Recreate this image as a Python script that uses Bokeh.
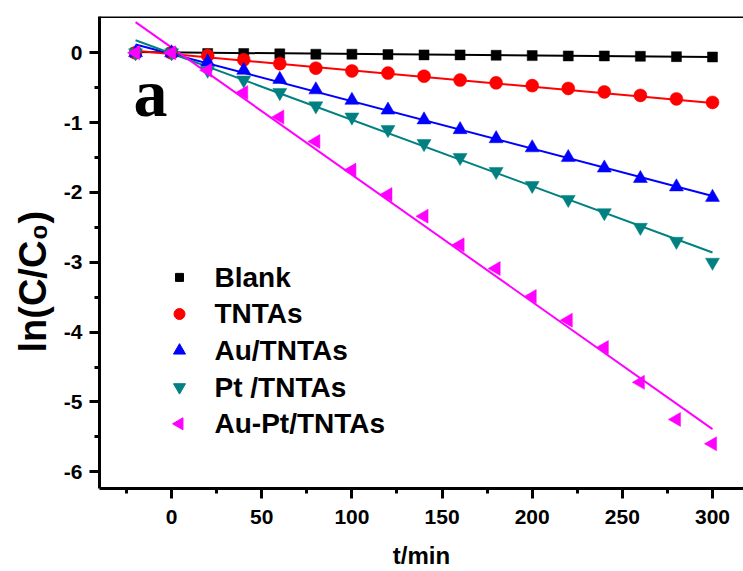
import numpy as np
from bokeh.plotting import figure
from bokeh.models import Range1d, Span, Label, FixedTicker, ColumnDataSource, Title
from bokeh.core.properties import value
from bokeh.embed import file_html
from bokeh.resources import INLINE

# ---- data ----
t_min = [-20, 0, 20, 40, 60, 80, 100, 120, 140, 160, 180, 200, 220, 240, 260, 280, 300]
blank = [0, 0, -0.01, -0.01, -0.015, -0.02, -0.02, -0.025, -0.03, -0.03, -0.035, -0.04, -0.045, -0.045, -0.05, -0.055, -0.06]
tntas = [0, 0, -0.04, -0.10, -0.155, -0.22, -0.26, -0.29, -0.335, -0.39, -0.43, -0.47, -0.51, -0.56, -0.61, -0.66, -0.71]
au_tntas = [0, 0, -0.13, -0.25, -0.38, -0.53, -0.68, -0.82, -0.96, -1.10, -1.23, -1.36, -1.50, -1.65, -1.80, -1.92, -2.07]
pt_tntas = [0, 0, -0.25, -0.39, -0.57, -0.76, -0.92, -1.10, -1.30, -1.50, -1.70, -1.90, -2.10, -2.29, -2.50, -2.70, -3.00]
aupt_tntas = [0, 0, -0.25, -0.57, -0.92, -1.27, -1.68, -2.03, -2.34, -2.75, -3.09, -3.49, -3.83, -4.22, -4.72, -5.25, -5.60]

series_names = ["Blank", "TNTAs", "Au/TNTAs", "Pt /TNTAs", "Au-Pt/TNTAs"]
series_values = [blank, tntas, au_tntas, pt_tntas, aupt_tntas]

# linear-fit lines: value at t=-20 and at t=300
fit_t = [-20, 300]
fit_start = [0.01, 0.03, 0.12, 0.18, 0.44]
fit_end = [-0.06, -0.72, -2.05, -2.86, -5.39]

x_ticks = [0, 50, 100, 150, 200, 250, 300]
x_minor = [-25, 25, 75, 125, 175, 225, 275]
y_ticks = [-6, -5, -4, -3, -2, -1, 0]
y_minor = [-5.5, -4.5, -3.5, -2.5, -1.5, -0.5]

# ---- styles ----
colors = ["#000000", "#FF0000", "#0000FF", "#008080", "#FF00FF"]
markers = ["square", "circle", "triangle", "inverted_triangle", "triangle"]
sizes = [10, 13, 14, 14, 14]
angles = [0, 0, 0, 0, np.pi / 2]

X0, X1 = -40.0, 317.2
Y0, Y1 = -6.24, 0.52
W, H = 743, 571
ML, MR, MT, MB = 99, 0, 16, 81
FW, FH = W - ML - MR, H - MT - MB

def px_to_x(px):
    return X0 + (px - ML) * (X1 - X0) / FW

def py_to_y(py):
    return Y1 - (py - MT) * (Y1 - Y0) / FH

p = figure(width=W, height=H, x_range=Range1d(X0, X1), y_range=Range1d(Y0, Y1),
           output_backend="svg", toolbar_location=None,
           min_border_left=ML, min_border_right=MR, min_border_top=MT, min_border_bottom=MB)
p.grid.visible = False
p.outline_line_color = None
p.background_fill_color = "white"

FONT = "Liberation Sans"
for ax in (p.xaxis[0], p.yaxis[0]):
    ax.axis_line_width = 3
    ax.axis_line_color = "black"
    ax.major_tick_out = 10
    ax.major_tick_in = 0
    ax.minor_tick_out = 5
    ax.minor_tick_in = 0
    ax.major_tick_line_width = 3
    ax.minor_tick_line_width = 3
    ax.major_tick_line_color = "black"
    ax.minor_tick_line_color = "black"
    ax.major_label_text_font = FONT
    ax.major_label_text_font_style = "bold"
    ax.major_label_text_font_size = "21px"
    ax.major_label_text_color = "black"
    ax.axis_label_text_font = FONT
    ax.axis_label_text_font_style = "bold"
    ax.axis_label_text_color = "black"

p.xaxis.ticker = FixedTicker(ticks=x_ticks, minor_ticks=x_minor)
p.yaxis.ticker = FixedTicker(ticks=y_ticks, minor_ticks=y_minor)
p.xaxis.major_label_overrides = {v: str(v) for v in x_ticks}
p.yaxis.major_label_overrides = {v: str(v) for v in y_ticks}
p.xaxis.axis_label = "t/min"
p.xaxis.axis_label_text_font_size = "24px"
p.xaxis.major_label_standoff = 11
p.xaxis.axis_label_standoff = 15
p.yaxis.major_label_standoff = 7

p.add_layout(Span(location=Y1, dimension="width", line_color="black", line_width=3))

# y-axis title (rotated), placed on the left side
p.add_layout(Title(text="ln(C/C\u2080)", align="left", offset=136, text_font=FONT,
                   text_font_style="bold", text_font_size="38px", text_color="black",
                   standoff=14), "left")

# fit lines
for i in range(5):
    p.line(fit_t, [fit_start[i], fit_end[i]], line_color=colors[i], line_width=2)

# points
for i in range(5):
    src = ColumnDataSource(dict(x=t_min, y=series_values[i]))
    p.scatter("x", "y", source=src, marker=markers[i], size=sizes[i], angle=angles[i],
              fill_color=colors[i], line_color=colors[i], line_width=0.5)

# legend (drawn manually so the left-pointing triangle is kept)
leg_mx = px_to_x(179)
leg_tx = px_to_x(214)
for i in range(5):
    yy = py_to_y(278 + i * 36.75)
    p.scatter([leg_mx], [yy], marker=markers[i], size=sizes[i] - 2, angle=angles[i],
              fill_color=colors[i], line_color=colors[i])
    p.text([leg_tx], [yy], text=[series_names[i]], text_font=value(FONT),
           text_font_style="bold", text_font_size="28px", text_baseline="middle",
           text_align="left", text_color="black")

p.add_layout(Label(x=px_to_x(133), y=py_to_y(93), text="a", text_font="Liberation Serif",
                   text_font_style="bold", text_font_size="68px", text_color="black",
                   text_baseline="alphabetic"))

open("out.html", "w").write(file_html(p, INLINE))
